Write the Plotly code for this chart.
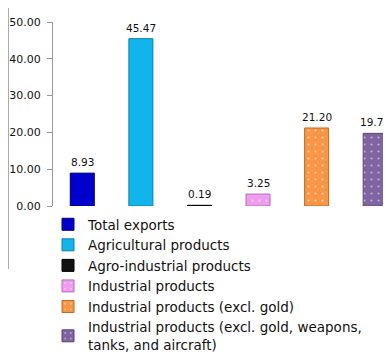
import plotly.graph_objects as go

categories = ["Total exports", "Agricultural products", "Agro-industrial products",
              "Industrial products", "Industrial products (excl. gold)",
              "Industrial products (excl. gold, weapons,<br>tanks, and aircraft)"]
values = [8.93, 45.47, 0.19, 3.25, 21.20, 19.74]
colors = ["#0000CC", "#12B4EC", "#111111", "#EE9CEE", "#F79646", "#8064A2"]
lines = ["#00007A", "#0A7FA8", "#000000", "#B86CB8", "#C06A28", "#5A4478"]
patterns = ["", "", "", ".", ".", "."]
ytick_vals = [0, 10, 20, 30, 40, 50]

# page offset (browser body margin)
OFF = 8
W, H = 391 - OFF, 353 - OFF
plot_left, plot_top, plot_bottom = 53 - OFF, 22 - OFF, 206 - OFF
pw = W - plot_left


def px(xp):
    return (xp - OFF - plot_left) / pw


def py(yp):
    return (H - (yp - OFF)) / H


fig = go.Figure()
for i, (c, v) in enumerate(zip(categories, values)):
    fig.add_trace(go.Bar(
        x=[i], y=[v], name=c, width=0.41,
        marker=dict(color=colors[i], line=dict(color=lines[i], width=1),
                    pattern=dict(shape=patterns[i], fgcolor="white", size=7, solidity=0.08)),
    ))
    fig.add_annotation(x=i, y=v, text=f"{v:.2f}", showarrow=False, yanchor="bottom",
                       yshift=4, borderpad=0,
                       font=dict(size=10.5, color="#111111", family="DejaVu Sans"))

fig.add_shape(type="line", xref="paper", yref="paper",
              x0=px(8.5), x1=px(8.5), y0=py(OFF), y1=py(269),
              line=dict(color="#AAAAAA", width=1))

fig.update_layout(
    width=W, height=H, autosize=False,
    margin=dict(l=plot_left, r=0, t=0, b=0, pad=0, autoexpand=False),
    paper_bgcolor="white", plot_bgcolor="white",
    barmode="overlay", showlegend=True,
    font=dict(family="DejaVu Sans", color="#111111"),
    legend=dict(x=px(48), y=py(209), xanchor="left", yanchor="top",
                font=dict(size=13.5, family="DejaVu Sans", color="#111111"),
                bgcolor="rgba(0,0,0,0)",
                traceorder="normal", itemwidth=30, tracegroupgap=0),
    xaxis=dict(range=[-0.5, 5.27], showticklabels=False, showline=False, showgrid=False,
               zeroline=False, ticks="", automargin=False, anchor="y"),
    yaxis=dict(range=[0, 50], tickvals=ytick_vals, tickformat=".2f", showgrid=False,
               domain=[(H - plot_bottom) / H, (H - plot_top) / H],
               zeroline=False, showline=True, linecolor="#999999", linewidth=1,
               ticks="outside", ticklen=5, tickcolor="#999999", automargin=False,
               ticklabelstandoff=4,
               tickfont=dict(size=11, family="DejaVu Sans", color="#111111")),
)

fig.write_html("out.html")
